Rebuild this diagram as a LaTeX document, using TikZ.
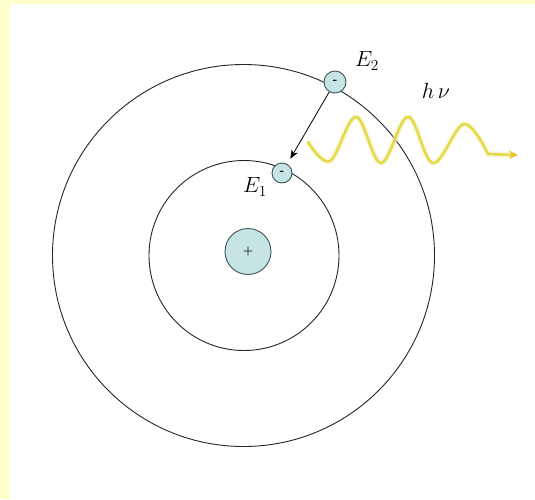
\RequirePackage{fix-cm}
\documentclass[tikz,border=0pt]{standalone}
\usetikzlibrary{arrows.meta, positioning}
\definecolor{framebg}{HTML}{FFFFCC}
\definecolor{shellfill}{HTML}{C6E4E4}
\definecolor{shelldraw}{HTML}{3A5656}
\definecolor{photon}{HTML}{E4DA48}
\definecolor{photontip}{HTML}{E8C42A}
\begin{document}
\begin{tikzpicture}[
    x=1pt, y=-1pt,
    every node/.style={font=\fontsize{22}{26}\selectfont},
    orbit/.style={circle, draw=black!85, line width=0.9pt, inner sep=0pt},
    particle/.style={circle, draw=shelldraw, line width=0.9pt, fill=shellfill,
                     inner sep=0pt, font=\fontsize{12}{13}\selectfont\bfseries},
    arr/.style={-{Stealth[length=9pt, width=7pt]}, line width=0.8pt, shorten >=6pt},
    wave/.style={photon, line width=2.6pt, line cap=round,
                 -{Stealth[length=9pt, width=8pt, color=photontip]},
                 preaction={draw, photon!35, line width=6pt, opacity=0.5}}
]
    % frame
    \fill[framebg] (0,0) rectangle (535,499);
    \fill[white] (10,4) rectangle (535,499);
    % orbits
    \node[orbit, minimum size=382pt] (outer) at (243.5,255.5) {};
    \node[orbit, minimum size=190pt] (inner) at (244,255.5) {};
    % nucleus and electrons
    \node[particle, minimum size=46pt] (nucleus) at (248,251.5) {+};
    \node[particle, minimum size=22pt] (e2) at (335,82) {-};
    \node[particle, minimum size=20pt] (e1) at (282,173) {-};
    % labels
    \node (lab2) at (367,61) {$E_2$};
    \node (lab1) at (255,187) {$E_1$};
    \node (labhv) at (436,91) {$h\,\nu$};
    % transition
    \draw[arr] (e2) -- (e1);
    % photon
    \coordinate (wstart) at (308,142);
    \coordinate (wend) at (518,155);
    \draw[wave] plot[smooth, tension=0.6] coordinates {(wstart) (330,161) (356,117)
        (381,163) (408,117) (433,163) (464,124) (488,154)} -- (wend);
\end{tikzpicture}
\end{document}
